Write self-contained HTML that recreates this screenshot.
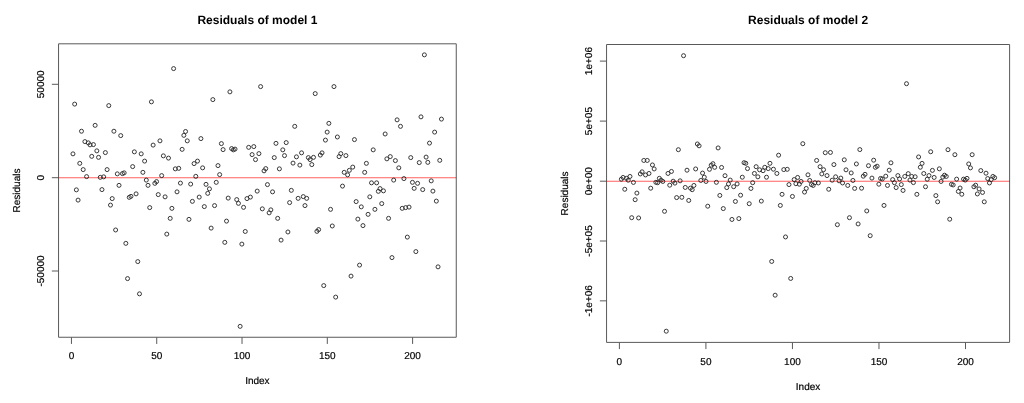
<!DOCTYPE html>
<html><head><meta charset="utf-8"><title>Residuals</title>
<style>
html,body{margin:0;padding:0;background:#fff;}
body{width:1024px;height:403px;overflow:hidden;}
svg{display:block;font-family:"Liberation Sans",sans-serif;}
</style></head>
<body>
<svg width="1024" height="403" viewBox="0 0 1024 403">
<rect width="1024" height="403" fill="#fff"/>
<g fill="none" stroke="#2e2e2e" stroke-width="0.95"><circle cx="72.96" cy="153.85" r="2.0"/><circle cx="74.66" cy="104.10" r="2.0"/><circle cx="76.37" cy="189.85" r="2.0"/><circle cx="78.07" cy="200.10" r="2.0"/><circle cx="79.78" cy="163.35" r="2.0"/><circle cx="81.49" cy="131.23" r="2.0"/><circle cx="83.19" cy="169.60" r="2.0"/><circle cx="84.90" cy="141.60" r="2.0"/><circle cx="86.60" cy="176.60" r="2.0"/><circle cx="88.31" cy="142.85" r="2.0"/><circle cx="90.02" cy="144.85" r="2.0"/><circle cx="91.72" cy="156.35" r="2.0"/><circle cx="93.43" cy="144.60" r="2.0"/><circle cx="95.13" cy="125.35" r="2.0"/><circle cx="96.84" cy="150.85" r="2.0"/><circle cx="98.55" cy="157.35" r="2.0"/><circle cx="100.25" cy="177.35" r="2.0"/><circle cx="101.96" cy="189.60" r="2.0"/><circle cx="103.66" cy="176.85" r="2.0"/><circle cx="105.37" cy="152.60" r="2.0"/><circle cx="107.08" cy="169.60" r="2.0"/><circle cx="108.78" cy="105.60" r="2.0"/><circle cx="110.49" cy="205.10" r="2.0"/><circle cx="112.19" cy="198.60" r="2.0"/><circle cx="113.90" cy="131.23" r="2.0"/><circle cx="115.61" cy="229.97" r="2.0"/><circle cx="117.31" cy="173.85" r="2.0"/><circle cx="119.02" cy="185.35" r="2.0"/><circle cx="120.72" cy="135.60" r="2.0"/><circle cx="122.43" cy="173.60" r="2.0"/><circle cx="124.14" cy="172.85" r="2.0"/><circle cx="125.84" cy="243.35" r="2.0"/><circle cx="127.55" cy="278.60" r="2.0"/><circle cx="129.25" cy="197.35" r="2.0"/><circle cx="130.96" cy="196.35" r="2.0"/><circle cx="132.67" cy="166.60" r="2.0"/><circle cx="134.37" cy="151.85" r="2.0"/><circle cx="136.08" cy="193.85" r="2.0"/><circle cx="137.78" cy="261.60" r="2.0"/><circle cx="139.49" cy="293.85" r="2.0"/><circle cx="141.20" cy="153.85" r="2.0"/><circle cx="142.90" cy="172.35" r="2.0"/><circle cx="144.61" cy="161.10" r="2.0"/><circle cx="146.31" cy="180.10" r="2.0"/><circle cx="148.02" cy="185.35" r="2.0"/><circle cx="149.73" cy="207.60" r="2.0"/><circle cx="151.43" cy="101.85" r="2.0"/><circle cx="153.14" cy="145.10" r="2.0"/><circle cx="154.84" cy="183.35" r="2.0"/><circle cx="156.55" cy="181.60" r="2.0"/><circle cx="158.26" cy="194.60" r="2.0"/><circle cx="159.96" cy="140.85" r="2.0"/><circle cx="161.67" cy="175.60" r="2.0"/><circle cx="163.37" cy="155.85" r="2.0"/><circle cx="165.08" cy="196.85" r="2.0"/><circle cx="166.79" cy="234.10" r="2.0"/><circle cx="168.49" cy="158.10" r="2.0"/><circle cx="170.20" cy="218.35" r="2.0"/><circle cx="171.90" cy="208.35" r="2.0"/><circle cx="173.61" cy="68.60" r="2.0"/><circle cx="175.32" cy="168.85" r="2.0"/><circle cx="177.02" cy="191.85" r="2.0"/><circle cx="178.73" cy="168.35" r="2.0"/><circle cx="180.43" cy="183.10" r="2.0"/><circle cx="182.14" cy="149.35" r="2.0"/><circle cx="183.85" cy="135.35" r="2.0"/><circle cx="185.55" cy="131.47" r="2.0"/><circle cx="187.26" cy="140.85" r="2.0"/><circle cx="188.96" cy="219.35" r="2.0"/><circle cx="190.67" cy="184.10" r="2.0"/><circle cx="192.38" cy="201.35" r="2.0"/><circle cx="194.08" cy="163.60" r="2.0"/><circle cx="195.79" cy="176.35" r="2.0"/><circle cx="197.49" cy="161.10" r="2.0"/><circle cx="199.20" cy="197.10" r="2.0"/><circle cx="200.91" cy="138.60" r="2.0"/><circle cx="202.61" cy="167.85" r="2.0"/><circle cx="204.32" cy="206.60" r="2.0"/><circle cx="206.02" cy="184.35" r="2.0"/><circle cx="207.73" cy="193.35" r="2.0"/><circle cx="209.44" cy="188.85" r="2.0"/><circle cx="211.14" cy="228.10" r="2.0"/><circle cx="212.85" cy="99.60" r="2.0"/><circle cx="214.55" cy="205.60" r="2.0"/><circle cx="216.26" cy="182.35" r="2.0"/><circle cx="217.97" cy="165.60" r="2.0"/><circle cx="219.67" cy="174.60" r="2.0"/><circle cx="221.38" cy="143.60" r="2.0"/><circle cx="223.08" cy="149.60" r="2.0"/><circle cx="224.79" cy="242.35" r="2.0"/><circle cx="226.50" cy="221.10" r="2.0"/><circle cx="228.20" cy="198.10" r="2.0"/><circle cx="229.91" cy="91.85" r="2.0"/><circle cx="231.61" cy="148.60" r="2.0"/><circle cx="233.32" cy="149.85" r="2.0"/><circle cx="235.03" cy="149.10" r="2.0"/><circle cx="236.73" cy="199.60" r="2.0"/><circle cx="238.44" cy="203.35" r="2.0"/><circle cx="240.14" cy="326.35" r="2.0"/><circle cx="241.85" cy="244.10" r="2.0"/><circle cx="243.56" cy="207.35" r="2.0"/><circle cx="245.26" cy="231.47" r="2.0"/><circle cx="246.97" cy="198.60" r="2.0"/><circle cx="248.67" cy="147.35" r="2.0"/><circle cx="250.38" cy="197.10" r="2.0"/><circle cx="252.09" cy="154.60" r="2.0"/><circle cx="253.79" cy="146.60" r="2.0"/><circle cx="255.50" cy="159.60" r="2.0"/><circle cx="257.20" cy="191.10" r="2.0"/><circle cx="258.91" cy="153.60" r="2.0"/><circle cx="260.62" cy="86.60" r="2.0"/><circle cx="262.32" cy="208.85" r="2.0"/><circle cx="264.03" cy="170.85" r="2.0"/><circle cx="265.73" cy="168.60" r="2.0"/><circle cx="267.44" cy="184.60" r="2.0"/><circle cx="269.15" cy="212.85" r="2.0"/><circle cx="270.85" cy="209.85" r="2.0"/><circle cx="272.56" cy="191.85" r="2.0"/><circle cx="274.26" cy="157.60" r="2.0"/><circle cx="275.97" cy="143.35" r="2.0"/><circle cx="277.68" cy="218.35" r="2.0"/><circle cx="279.38" cy="168.85" r="2.0"/><circle cx="281.09" cy="240.10" r="2.0"/><circle cx="282.79" cy="149.85" r="2.0"/><circle cx="284.50" cy="155.60" r="2.0"/><circle cx="286.21" cy="142.60" r="2.0"/><circle cx="287.91" cy="231.97" r="2.0"/><circle cx="289.62" cy="202.60" r="2.0"/><circle cx="291.32" cy="190.35" r="2.0"/><circle cx="293.03" cy="163.10" r="2.0"/><circle cx="294.74" cy="126.35" r="2.0"/><circle cx="296.44" cy="156.85" r="2.0"/><circle cx="298.15" cy="198.35" r="2.0"/><circle cx="299.85" cy="165.10" r="2.0"/><circle cx="301.56" cy="152.85" r="2.0"/><circle cx="303.27" cy="196.60" r="2.0"/><circle cx="304.97" cy="205.60" r="2.0"/><circle cx="306.68" cy="198.35" r="2.0"/><circle cx="308.38" cy="157.60" r="2.0"/><circle cx="310.09" cy="159.60" r="2.0"/><circle cx="311.80" cy="164.60" r="2.0"/><circle cx="313.50" cy="157.35" r="2.0"/><circle cx="315.21" cy="93.60" r="2.0"/><circle cx="316.91" cy="231.35" r="2.0"/><circle cx="318.62" cy="229.60" r="2.0"/><circle cx="320.33" cy="155.10" r="2.0"/><circle cx="322.03" cy="152.85" r="2.0"/><circle cx="323.74" cy="285.60" r="2.0"/><circle cx="325.44" cy="140.10" r="2.0"/><circle cx="327.15" cy="132.10" r="2.0"/><circle cx="328.86" cy="123.35" r="2.0"/><circle cx="330.56" cy="209.35" r="2.0"/><circle cx="332.27" cy="225.97" r="2.0"/><circle cx="333.97" cy="86.60" r="2.0"/><circle cx="335.68" cy="297.10" r="2.0"/><circle cx="337.39" cy="136.97" r="2.0"/><circle cx="339.09" cy="156.60" r="2.0"/><circle cx="340.80" cy="153.60" r="2.0"/><circle cx="342.50" cy="186.10" r="2.0"/><circle cx="344.21" cy="172.35" r="2.0"/><circle cx="345.92" cy="155.60" r="2.0"/><circle cx="347.62" cy="174.85" r="2.0"/><circle cx="349.33" cy="170.35" r="2.0"/><circle cx="351.03" cy="276.10" r="2.0"/><circle cx="352.74" cy="167.10" r="2.0"/><circle cx="354.45" cy="139.60" r="2.0"/><circle cx="356.15" cy="201.60" r="2.0"/><circle cx="357.86" cy="219.10" r="2.0"/><circle cx="359.56" cy="265.10" r="2.0"/><circle cx="361.27" cy="206.85" r="2.0"/><circle cx="362.98" cy="225.60" r="2.0"/><circle cx="364.68" cy="172.35" r="2.0"/><circle cx="366.39" cy="163.35" r="2.0"/><circle cx="368.09" cy="214.35" r="2.0"/><circle cx="369.80" cy="196.85" r="2.0"/><circle cx="371.51" cy="182.85" r="2.0"/><circle cx="373.21" cy="149.85" r="2.0"/><circle cx="374.92" cy="209.35" r="2.0"/><circle cx="376.62" cy="182.85" r="2.0"/><circle cx="378.33" cy="191.35" r="2.0"/><circle cx="380.04" cy="188.60" r="2.0"/><circle cx="381.74" cy="203.60" r="2.0"/><circle cx="383.45" cy="190.85" r="2.0"/><circle cx="385.15" cy="133.97" r="2.0"/><circle cx="386.86" cy="158.85" r="2.0"/><circle cx="388.57" cy="218.35" r="2.0"/><circle cx="390.27" cy="156.60" r="2.0"/><circle cx="391.98" cy="257.60" r="2.0"/><circle cx="393.68" cy="180.10" r="2.0"/><circle cx="395.39" cy="160.60" r="2.0"/><circle cx="397.10" cy="119.85" r="2.0"/><circle cx="398.80" cy="167.85" r="2.0"/><circle cx="400.51" cy="126.35" r="2.0"/><circle cx="402.21" cy="208.35" r="2.0"/><circle cx="403.92" cy="178.60" r="2.0"/><circle cx="405.63" cy="207.60" r="2.0"/><circle cx="407.33" cy="237.10" r="2.0"/><circle cx="409.04" cy="207.10" r="2.0"/><circle cx="410.74" cy="157.60" r="2.0"/><circle cx="412.45" cy="182.35" r="2.0"/><circle cx="414.16" cy="188.35" r="2.0"/><circle cx="415.86" cy="251.60" r="2.0"/><circle cx="417.57" cy="183.35" r="2.0"/><circle cx="419.27" cy="162.60" r="2.0"/><circle cx="420.98" cy="116.85" r="2.0"/><circle cx="422.69" cy="189.60" r="2.0"/><circle cx="424.39" cy="54.85" r="2.0"/><circle cx="426.10" cy="157.10" r="2.0"/><circle cx="427.80" cy="162.35" r="2.0"/><circle cx="429.51" cy="143.10" r="2.0"/><circle cx="431.22" cy="180.85" r="2.0"/><circle cx="432.92" cy="191.10" r="2.0"/><circle cx="434.63" cy="132.10" r="2.0"/><circle cx="436.33" cy="201.10" r="2.0"/><circle cx="438.04" cy="266.85" r="2.0"/><circle cx="439.75" cy="160.35" r="2.0"/><circle cx="441.45" cy="119.10" r="2.0"/></g>
<g fill="none" stroke="#5a5a5a" stroke-width="1.0"><rect x="58.55" y="43.8" width="397.7" height="293.45" stroke-linejoin="round"/><path d="M71.44 337.25v6.7M156.73 337.25v6.7M242.02 337.25v6.7M327.31 337.25v6.7M412.6 337.25v6.7"/><path d="M58.55 84.3h-6.7M58.55 177.7h-6.7M58.55 271.0h-6.7"/></g>
<g fill="#000" font-size="10" opacity="0.999" stroke="#000" stroke-width="0.2" text-rendering="geometricPrecision"><text x="71.44" y="359.2" text-anchor="middle">0</text><text x="156.73" y="359.2" text-anchor="middle">50</text><text x="242.02" y="359.2" text-anchor="middle">100</text><text x="327.31" y="359.2" text-anchor="middle">150</text><text x="412.6" y="359.2" text-anchor="middle">200</text><text transform="translate(44.2 84.3) rotate(-90)" text-anchor="middle">50000</text><text transform="translate(44.2 177.7) rotate(-90)" text-anchor="middle">0</text><text transform="translate(44.2 271.0) rotate(-90)" text-anchor="middle">-50000</text><text x="257.4" y="383.7" text-anchor="middle">Index</text><text transform="translate(20.3 190.525) rotate(-90)" text-anchor="middle">Residuals</text><text x="257.4" y="23.7" text-anchor="middle" font-weight="bold" stroke="none" font-size="12">Residuals of model 1</text></g>
<line x1="58.55" y1="177.7" x2="456.25" y2="177.7" stroke="#ff6262" stroke-width="1.1" style="mix-blend-mode:multiply"/>
<g fill="none" stroke="#2e2e2e" stroke-width="0.95"><circle cx="621.33" cy="179.20" r="2.0"/><circle cx="623.06" cy="177.45" r="2.0"/><circle cx="624.78" cy="189.26" r="2.0"/><circle cx="626.51" cy="178.32" r="2.0"/><circle cx="628.24" cy="180.20" r="2.0"/><circle cx="629.97" cy="176.45" r="2.0"/><circle cx="631.70" cy="217.70" r="2.0"/><circle cx="633.43" cy="182.45" r="2.0"/><circle cx="635.15" cy="199.70" r="2.0"/><circle cx="636.88" cy="193.08" r="2.0"/><circle cx="638.61" cy="217.95" r="2.0"/><circle cx="640.34" cy="173.95" r="2.0"/><circle cx="642.07" cy="171.82" r="2.0"/><circle cx="643.80" cy="160.45" r="2.0"/><circle cx="645.52" cy="174.95" r="2.0"/><circle cx="647.25" cy="160.45" r="2.0"/><circle cx="648.98" cy="173.45" r="2.0"/><circle cx="650.71" cy="188.20" r="2.0"/><circle cx="652.44" cy="164.95" r="2.0"/><circle cx="654.17" cy="168.95" r="2.0"/><circle cx="655.89" cy="182.32" r="2.0"/><circle cx="657.62" cy="182.70" r="2.0"/><circle cx="659.35" cy="178.32" r="2.0"/><circle cx="661.08" cy="180.20" r="2.0"/><circle cx="662.81" cy="181.45" r="2.0"/><circle cx="664.54" cy="211.32" r="2.0"/><circle cx="666.26" cy="331.20" r="2.0"/><circle cx="667.99" cy="173.45" r="2.0"/><circle cx="669.72" cy="185.20" r="2.0"/><circle cx="671.45" cy="171.45" r="2.0"/><circle cx="673.18" cy="181.20" r="2.0"/><circle cx="674.91" cy="183.08" r="2.0"/><circle cx="676.63" cy="197.58" r="2.0"/><circle cx="678.36" cy="149.70" r="2.0"/><circle cx="680.09" cy="180.82" r="2.0"/><circle cx="681.82" cy="197.32" r="2.0"/><circle cx="683.55" cy="55.70" r="2.0"/><circle cx="685.28" cy="187.45" r="2.0"/><circle cx="687.00" cy="170.20" r="2.0"/><circle cx="688.73" cy="200.45" r="2.0"/><circle cx="690.46" cy="188.14" r="2.0"/><circle cx="692.19" cy="189.70" r="2.0"/><circle cx="693.92" cy="185.45" r="2.0"/><circle cx="695.65" cy="168.95" r="2.0"/><circle cx="697.37" cy="143.95" r="2.0"/><circle cx="699.10" cy="145.82" r="2.0"/><circle cx="700.83" cy="180.45" r="2.0"/><circle cx="702.56" cy="173.08" r="2.0"/><circle cx="704.29" cy="177.20" r="2.0"/><circle cx="706.01" cy="181.45" r="2.0"/><circle cx="707.74" cy="206.20" r="2.0"/><circle cx="709.47" cy="169.32" r="2.0"/><circle cx="711.20" cy="165.20" r="2.0"/><circle cx="712.93" cy="163.70" r="2.0"/><circle cx="714.66" cy="167.32" r="2.0"/><circle cx="716.38" cy="182.32" r="2.0"/><circle cx="718.11" cy="147.95" r="2.0"/><circle cx="719.84" cy="195.45" r="2.0"/><circle cx="721.57" cy="167.45" r="2.0"/><circle cx="723.30" cy="208.58" r="2.0"/><circle cx="725.03" cy="175.70" r="2.0"/><circle cx="726.75" cy="187.58" r="2.0"/><circle cx="728.48" cy="183.95" r="2.0"/><circle cx="730.21" cy="180.08" r="2.0"/><circle cx="731.94" cy="219.45" r="2.0"/><circle cx="733.67" cy="186.70" r="2.0"/><circle cx="735.40" cy="201.45" r="2.0"/><circle cx="737.12" cy="183.95" r="2.0"/><circle cx="738.85" cy="218.58" r="2.0"/><circle cx="740.58" cy="195.20" r="2.0"/><circle cx="742.31" cy="177.20" r="2.0"/><circle cx="744.04" cy="162.70" r="2.0"/><circle cx="745.77" cy="163.32" r="2.0"/><circle cx="747.49" cy="168.58" r="2.0"/><circle cx="749.22" cy="203.70" r="2.0"/><circle cx="750.95" cy="188.45" r="2.0"/><circle cx="752.68" cy="182.70" r="2.0"/><circle cx="754.41" cy="173.45" r="2.0"/><circle cx="756.14" cy="166.70" r="2.0"/><circle cx="757.86" cy="176.82" r="2.0"/><circle cx="759.59" cy="169.82" r="2.0"/><circle cx="761.32" cy="201.08" r="2.0"/><circle cx="763.05" cy="170.70" r="2.0"/><circle cx="764.78" cy="167.32" r="2.0"/><circle cx="766.51" cy="177.20" r="2.0"/><circle cx="768.23" cy="168.58" r="2.0"/><circle cx="769.96" cy="163.32" r="2.0"/><circle cx="771.69" cy="261.45" r="2.0"/><circle cx="773.42" cy="169.20" r="2.0"/><circle cx="775.15" cy="295.20" r="2.0"/><circle cx="776.88" cy="173.45" r="2.0"/><circle cx="778.60" cy="155.20" r="2.0"/><circle cx="780.33" cy="205.45" r="2.0"/><circle cx="782.06" cy="194.32" r="2.0"/><circle cx="783.79" cy="169.58" r="2.0"/><circle cx="785.52" cy="236.95" r="2.0"/><circle cx="787.25" cy="169.32" r="2.0"/><circle cx="788.97" cy="184.58" r="2.0"/><circle cx="790.70" cy="278.45" r="2.0"/><circle cx="792.43" cy="196.45" r="2.0"/><circle cx="794.16" cy="179.58" r="2.0"/><circle cx="795.89" cy="183.70" r="2.0"/><circle cx="797.61" cy="177.45" r="2.0"/><circle cx="799.34" cy="184.20" r="2.0"/><circle cx="801.07" cy="181.45" r="2.0"/><circle cx="802.80" cy="143.70" r="2.0"/><circle cx="804.53" cy="192.08" r="2.0"/><circle cx="806.26" cy="188.45" r="2.0"/><circle cx="807.98" cy="174.82" r="2.0"/><circle cx="809.71" cy="180.45" r="2.0"/><circle cx="811.44" cy="184.58" r="2.0"/><circle cx="813.17" cy="185.45" r="2.0"/><circle cx="814.90" cy="182.70" r="2.0"/><circle cx="816.63" cy="160.45" r="2.0"/><circle cx="818.35" cy="182.95" r="2.0"/><circle cx="820.08" cy="166.70" r="2.0"/><circle cx="821.81" cy="173.95" r="2.0"/><circle cx="823.54" cy="169.70" r="2.0"/><circle cx="825.27" cy="152.70" r="2.0"/><circle cx="827.00" cy="175.58" r="2.0"/><circle cx="828.72" cy="189.26" r="2.0"/><circle cx="830.45" cy="152.45" r="2.0"/><circle cx="832.18" cy="180.20" r="2.0"/><circle cx="833.91" cy="164.58" r="2.0"/><circle cx="835.64" cy="176.82" r="2.0"/><circle cx="837.37" cy="224.70" r="2.0"/><circle cx="839.09" cy="180.82" r="2.0"/><circle cx="840.82" cy="178.08" r="2.0"/><circle cx="842.55" cy="182.95" r="2.0"/><circle cx="844.28" cy="159.82" r="2.0"/><circle cx="846.01" cy="169.82" r="2.0"/><circle cx="847.74" cy="185.45" r="2.0"/><circle cx="849.46" cy="217.70" r="2.0"/><circle cx="851.19" cy="172.95" r="2.0"/><circle cx="852.92" cy="180.45" r="2.0"/><circle cx="854.65" cy="188.41" r="2.0"/><circle cx="856.38" cy="163.95" r="2.0"/><circle cx="858.11" cy="223.95" r="2.0"/><circle cx="859.83" cy="149.58" r="2.0"/><circle cx="861.56" cy="188.20" r="2.0"/><circle cx="863.29" cy="176.20" r="2.0"/><circle cx="865.02" cy="174.32" r="2.0"/><circle cx="866.75" cy="210.95" r="2.0"/><circle cx="868.48" cy="165.70" r="2.0"/><circle cx="870.20" cy="235.70" r="2.0"/><circle cx="871.93" cy="178.08" r="2.0"/><circle cx="873.66" cy="160.20" r="2.0"/><circle cx="875.39" cy="167.32" r="2.0"/><circle cx="877.12" cy="166.20" r="2.0"/><circle cx="878.85" cy="184.20" r="2.0"/><circle cx="880.57" cy="178.45" r="2.0"/><circle cx="882.30" cy="178.95" r="2.0"/><circle cx="884.03" cy="205.45" r="2.0"/><circle cx="885.76" cy="176.20" r="2.0"/><circle cx="887.49" cy="185.45" r="2.0"/><circle cx="889.21" cy="170.20" r="2.0"/><circle cx="890.94" cy="162.82" r="2.0"/><circle cx="892.67" cy="179.58" r="2.0"/><circle cx="894.40" cy="182.70" r="2.0"/><circle cx="896.13" cy="187.58" r="2.0"/><circle cx="897.86" cy="175.58" r="2.0"/><circle cx="899.58" cy="178.95" r="2.0"/><circle cx="901.31" cy="184.58" r="2.0"/><circle cx="903.04" cy="190.45" r="2.0"/><circle cx="904.77" cy="176.45" r="2.0"/><circle cx="906.50" cy="83.70" r="2.0"/><circle cx="908.23" cy="173.64" r="2.0"/><circle cx="909.95" cy="180.08" r="2.0"/><circle cx="911.68" cy="176.45" r="2.0"/><circle cx="913.41" cy="182.58" r="2.0"/><circle cx="915.14" cy="176.76" r="2.0"/><circle cx="916.87" cy="194.32" r="2.0"/><circle cx="918.60" cy="156.95" r="2.0"/><circle cx="920.32" cy="167.26" r="2.0"/><circle cx="922.05" cy="163.39" r="2.0"/><circle cx="923.78" cy="173.51" r="2.0"/><circle cx="925.51" cy="186.74" r="2.0"/><circle cx="927.24" cy="179.20" r="2.0"/><circle cx="928.97" cy="175.58" r="2.0"/><circle cx="930.69" cy="151.76" r="2.0"/><circle cx="932.42" cy="170.39" r="2.0"/><circle cx="934.15" cy="177.45" r="2.0"/><circle cx="935.88" cy="195.58" r="2.0"/><circle cx="937.61" cy="201.82" r="2.0"/><circle cx="939.34" cy="168.82" r="2.0"/><circle cx="941.06" cy="181.45" r="2.0"/><circle cx="942.79" cy="177.08" r="2.0"/><circle cx="944.52" cy="175.20" r="2.0"/><circle cx="946.25" cy="176.45" r="2.0"/><circle cx="947.98" cy="149.70" r="2.0"/><circle cx="949.71" cy="219.20" r="2.0"/><circle cx="951.43" cy="184.32" r="2.0"/><circle cx="953.16" cy="184.95" r="2.0"/><circle cx="954.89" cy="154.70" r="2.0"/><circle cx="956.62" cy="179.14" r="2.0"/><circle cx="958.35" cy="191.45" r="2.0"/><circle cx="960.08" cy="188.03" r="2.0"/><circle cx="961.80" cy="194.26" r="2.0"/><circle cx="963.53" cy="179.14" r="2.0"/><circle cx="965.26" cy="180.08" r="2.0"/><circle cx="966.99" cy="178.39" r="2.0"/><circle cx="968.72" cy="163.95" r="2.0"/><circle cx="970.44" cy="167.89" r="2.0"/><circle cx="972.17" cy="154.70" r="2.0"/><circle cx="973.90" cy="186.76" r="2.0"/><circle cx="975.63" cy="185.20" r="2.0"/><circle cx="977.36" cy="193.95" r="2.0"/><circle cx="979.09" cy="188.95" r="2.0"/><circle cx="980.81" cy="170.58" r="2.0"/><circle cx="982.54" cy="192.45" r="2.0"/><circle cx="984.27" cy="201.82" r="2.0"/><circle cx="986.00" cy="173.20" r="2.0"/><circle cx="987.73" cy="178.58" r="2.0"/><circle cx="989.46" cy="182.95" r="2.0"/><circle cx="991.18" cy="179.58" r="2.0"/><circle cx="992.91" cy="176.45" r="2.0"/><circle cx="994.64" cy="177.70" r="2.0"/></g>
<g fill="none" stroke="#5a5a5a" stroke-width="1.0"><rect x="606.56" y="44.5" width="403.0400000000001" height="297.9" stroke-linejoin="round"/><path d="M619.4 342.4v6.7M705.92 342.4v6.7M792.45 342.4v6.7M878.98 342.4v6.7M965.5 342.4v6.7"/><path d="M606.56 61.1h-6.7M606.56 121.1h-6.7M606.56 181.2h-6.7M606.56 241.0h-6.7M606.56 300.85h-6.7"/></g>
<g fill="#000" font-size="10" opacity="0.999" stroke="#000" stroke-width="0.2" text-rendering="geometricPrecision"><text x="619.4" y="365.0" text-anchor="middle">0</text><text x="705.92" y="365.0" text-anchor="middle">50</text><text x="792.45" y="365.0" text-anchor="middle">100</text><text x="878.98" y="365.0" text-anchor="middle">150</text><text x="965.5" y="365.0" text-anchor="middle">200</text><text transform="translate(592.4 61.1) rotate(-90)" text-anchor="middle">1e+06</text><text transform="translate(592.4 121.1) rotate(-90)" text-anchor="middle">5e+05</text><text transform="translate(592.4 181.2) rotate(-90)" text-anchor="middle">0e+00</text><text transform="translate(592.4 241.0) rotate(-90)" text-anchor="middle">-5e+05</text><text transform="translate(592.4 300.85) rotate(-90)" text-anchor="middle">-1e+06</text><text x="808.0799999999999" y="389.5" text-anchor="middle">Index</text><text transform="translate(568 193.45) rotate(-90)" text-anchor="middle">Residuals</text><text x="808.0799999999999" y="23.7" text-anchor="middle" font-weight="bold" stroke="none" font-size="12">Residuals of model 2</text></g>
<line x1="606.56" y1="181.3" x2="1009.6" y2="181.3" stroke="#ff6262" stroke-width="1.1" style="mix-blend-mode:multiply"/>
</svg>
</body></html>
